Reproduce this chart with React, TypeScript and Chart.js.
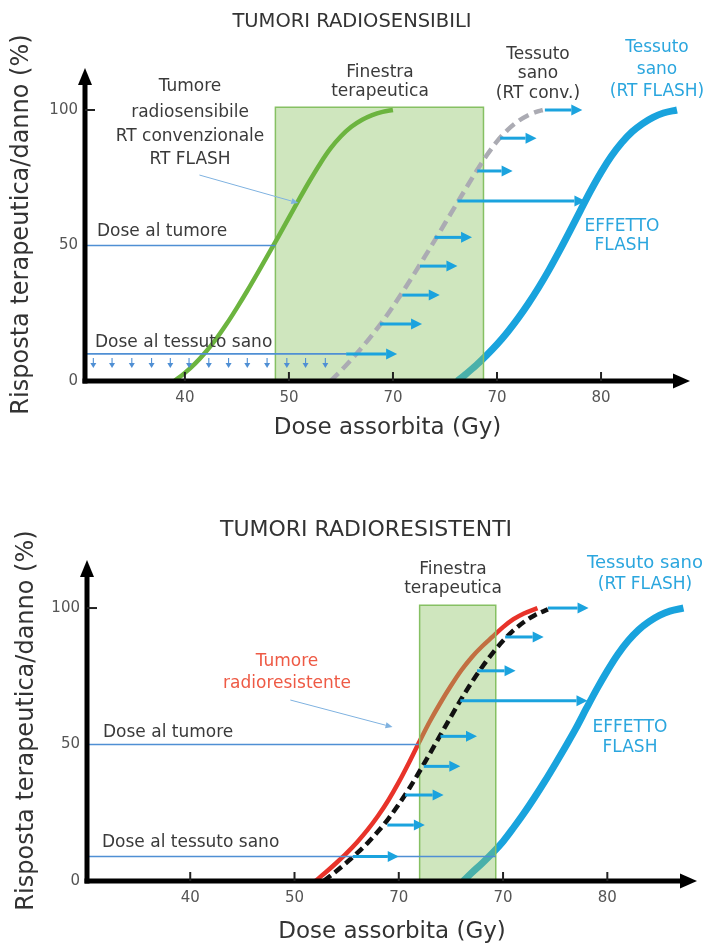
import React, { useEffect, useRef } from 'react';
import { Chart, registerables } from 'chart.js';
Chart.register(...registerables);

const FONT = "'DejaVu Sans', sans-serif";

// ---- shared axis ticks ----
const xTickValues = [40, 50, 60, 70, 80];
const xTickLabels = ['40', '50', '70', '70', '80'];
const yTickValues = [0, 50, 100];
const yTickLabels = ['0', '50', '100'];
const xAxisTitle = 'Dose assorbita (Gy)';
const yAxisTitle = 'Risposta terapeutica/danno (%)';

// ---- TOP panel: tumori radiosensibili ----
const topTitle = 'TUMORI RADIOSENSIBILI';
const topTumorX = [39, 40, 41, 42, 43, 44, 45, 46, 47, 48, 49, 50, 51, 52, 53, 54, 55, 56, 57, 58, 59, 60];
const topTumorY = [0, 3, 6.5, 10.7, 15.5, 21, 27, 33.3, 39.9, 46.6, 53.4, 60.3, 67.2, 73.9, 80.2, 85.8, 90.3, 93.8, 96.3, 98.1, 99.3, 100];
const topConvX = [54, 55, 56, 57, 58, 59, 60, 61, 62, 63, 64, 65, 66, 67, 68, 69, 70, 71, 72, 73, 74, 74.4];
const topConvY = [0, 3.8, 7.9, 12.3, 17, 22, 27.5, 33.3, 39.3, 45.5, 51.8, 58.2, 64.6, 71, 77.3, 83.2, 88.4, 92.6, 95.8, 98.1, 99.6, 100];
const topFlashX = [66.2, 67, 68, 69, 70, 71, 72, 73, 74, 75, 76, 77, 78, 79, 80, 81, 82, 83, 84, 85, 86, 87.3];
const topFlashY = [0, 2.5, 5.8, 9.5, 13.5, 18, 23, 28.5, 34.5, 41, 48, 55.3, 62.8, 70.2, 77, 83, 88, 92, 95, 97.3, 98.9, 100];
const topWindow = [48.7, 68.7, 101]; // x from, x to, top
const topArrowY = [100, 89.6, 77.5, 66.4, 53, 42.4, 31.7, 21, 10];
const topArrowFrom = [74.6, 70.3, 68.1, 66.2, 64.0, 62.6, 60.9, 58.75, 55.5];
const topArrowTo = [78.2, 73.8, 71.5, 78.5, 67.6, 66.2, 64.5, 62.8, 60.4];
const topDoseY = [50, 10];
const topDoseTo = [48.7, 55.5];
const topDownArrowX = [31.2, 33.0, 34.9, 36.8, 38.6, 40.4, 42.3, 44.2, 46.0, 47.9, 49.8, 51.6, 53.5];
const topLeader = [41.4, 76, 50.9, 65.7];

// ---- BOTTOM panel: tumori radioresistenti ----
const botTitle = 'TUMORI RADIORESISTENTI';
const botTumorX = [52, 53, 54, 55, 56, 57, 58, 59, 60, 61, 62, 63, 64, 65, 66, 67, 68, 69, 70, 71, 72, 73.3];
const botTumorY = [0, 3.2, 6.6, 10.2, 14.2, 18.7, 23.8, 29.6, 36.2, 43.5, 51.2, 58.6, 65.3, 71.5, 77.2, 82, 86, 89.5, 93, 95.9, 98, 100];
const botConvX = [52.8, 54, 55, 56, 57, 58, 59, 60, 61, 62, 63, 64, 65, 66, 67, 68, 69, 70, 71, 72, 73, 74.3];
const botConvY = [0, 3.6, 6.8, 10.2, 13.9, 18.1, 22.8, 28.1, 33.9, 40.2, 46.8, 53.5, 60.2, 66.7, 72.8, 78.4, 83.5, 88, 91.8, 94.9, 97.3, 99.5];
const botFlashX = [66.2, 67, 68, 69, 70, 71, 72, 73, 74, 75, 76, 77, 78, 79, 80, 81, 82, 83, 84, 85, 86, 87.3];
const botFlashY = [0, 3, 6.5, 10.3, 14.5, 19.5, 24.8, 30.5, 36.5, 42.8, 49.3, 56, 63.3, 70.4, 77, 83, 88, 92, 95, 97.3, 98.9, 100];
const botWindow = [62.0, 69.3, 101];
const botArrowY = [100, 89.4, 77, 66, 53, 42, 31.5, 20.5, 9];
const botArrowFrom = [74.3, 70.2, 67.5, 65.9, 64.0, 62.4, 60.6, 58.9, 55.6];
const botArrowTo = [78.2, 73.9, 71.2, 78.1, 67.5, 65.9, 64.3, 62.5, 60.0];
const botDoseY = [50, 9];
const botDoseTo = [61.9, 69.3];
const botDownArrowX: number[] = [];
const botLeader = [49.6, 66.3, 59.4, 56.4];

const pts = (xs: number[], ys: number[]) => xs.map((v, i) => ({ x: v, y: ys[i] }));

type Txt = { t: string; x: number; y: number; c?: string; a?: CanvasTextAlign; s?: number };

function arrow(ctx: CanvasRenderingContext2D, x0: number, y0: number, x1: number, y1: number,
  color: string, w: number, hl: number, hh: number) {
  const ang = Math.atan2(y1 - y0, x1 - x0);
  const bx = x1 - hl * Math.cos(ang), by = y1 - hl * Math.sin(ang);
  ctx.strokeStyle = color; ctx.lineWidth = w; ctx.lineCap = 'butt';
  ctx.beginPath(); ctx.moveTo(x0, y0); ctx.lineTo(bx, by); ctx.stroke();
  ctx.fillStyle = color;
  ctx.beginPath(); ctx.moveTo(x1, y1);
  ctx.lineTo(bx - hh * Math.sin(ang), by + hh * Math.cos(ang));
  ctx.lineTo(bx + hh * Math.sin(ang), by - hh * Math.cos(ang));
  ctx.closePath(); ctx.fill();
}

const TEXT = '#3a3a3a';
const BLUE_T = '#2ba6de';
const RED_T = '#ee5a45';

const topTexts: Txt[] = [
  { t: topTitle, x: 352, y: 22, s: 19.5, c: '#333' },
  { t: 'Tumore', x: 190, y: 87 }, { t: 'radiosensibile', x: 190, y: 113 },
  { t: 'RT convenzionale', x: 190, y: 137 }, { t: 'RT FLASH', x: 190, y: 160 },
  { t: 'Finestra', x: 380, y: 73 }, { t: 'terapeutica', x: 380, y: 92 },
  { t: 'Tessuto', x: 538, y: 55 }, { t: 'sano', x: 538, y: 74 }, { t: '(RT conv.)', x: 538, y: 94 },
  { t: 'Tessuto', x: 657, y: 48, c: BLUE_T }, { t: 'sano', x: 657, y: 70, c: BLUE_T },
  { t: '(RT FLASH)', x: 657, y: 92, c: BLUE_T },
  { t: 'EFFETTO', x: 622, y: 227, c: BLUE_T }, { t: 'FLASH', x: 622, y: 246, c: BLUE_T },
  { t: 'Dose al tumore', x: 97, y: 232, a: 'left' },
  { t: 'Dose al tessuto sano', x: 95, y: 343, a: 'left' },
];
const botTexts: Txt[] = [
  { t: botTitle, x: 366, y: 88, s: 22, c: '#333' },
  { t: 'Finestra', x: 453, y: 128 }, { t: 'terapeutica', x: 453, y: 147 },
  { t: 'Tessuto sano', x: 645, y: 121, c: BLUE_T, s: 18 }, { t: '(RT FLASH)', x: 645, y: 143, c: BLUE_T },
  { t: 'Tumore', x: 287, y: 220, c: RED_T }, { t: 'radioresistente', x: 287, y: 242, c: RED_T },
  { t: 'EFFETTO', x: 630, y: 286, c: BLUE_T }, { t: 'FLASH', x: 630, y: 306, c: BLUE_T },
  { t: 'Dose al tumore', x: 103, y: 291, a: 'left' },
  { t: 'Dose al tessuto sano', x: 102, y: 401, a: 'left' },
];

type Cfg = {
  h: number; padTop: number; yW: number; xH: number; padR: number;
  xMin: number; xMax: number; yMax: number; yTitlePad: number; xTitlePad: number;
  tumorX: number[]; tumorY: number[]; tumorColor: string; tumorOrder: number;
  convX: number[]; convY: number[]; convColor: string; convDash: number[];
  flashX: number[]; flashY: number[]; win: number[];
  arrowY: number[]; arrowFrom: number[]; arrowTo: number[];
  doseY: number[]; doseTo: number[]; downX: number[]; leader: number[]; texts: Txt[];
};

const topCfg: Cfg = {
  h: 442, padTop: 68, yW: 85, xH: 61, padR: 17,
  xMin: 30.4, xMax: 88.55, yMax: 115.5, yTitlePad: 7.6, xTitlePad: 0,
  tumorX: topTumorX, tumorY: topTumorY, tumorColor: '#6cb43f', tumorOrder: 1,
  convX: topConvX, convY: topConvY, convColor: '#ababb3', convDash: [11, 6],
  flashX: topFlashX, flashY: topFlashY, win: topWindow,
  arrowY: topArrowY, arrowFrom: topArrowFrom, arrowTo: topArrowTo,
  doseY: topDoseY, doseTo: topDoseTo, downX: topDownArrowX, leader: topLeader, texts: topTexts,
};
const botCfg: Cfg = {
  h: 505, padTop: 118, yW: 87, xH: 66, padR: 10,
  xMin: 30.1, xMax: 88.6, yMax: 117.6, yTitlePad: 12.6, xTitlePad: 1.2,
  tumorX: botTumorX, tumorY: botTumorY, tumorColor: '#e8332a', tumorOrder: 3,
  convX: botConvX, convY: botConvY, convColor: '#111111', convDash: [9, 5],
  flashX: botFlashX, flashY: botFlashY, win: botWindow,
  arrowY: botArrowY, arrowFrom: botArrowFrom, arrowTo: botArrowTo,
  doseY: botDoseY, doseTo: botDoseTo, downX: botDownArrowX, leader: botLeader, texts: botTexts,
};

function decoPlugin(cfg: Cfg) {
  return {
    id: 'deco',
    afterDatasetsDraw(chart: any) {
      const { ctx, chartArea: a, scales } = chart;
      const X = (v: number) => scales.x.getPixelForValue(v);
      const Y = (v: number) => scales.y.getPixelForValue(v);
      ctx.save();
      // dose lines
      ctx.strokeStyle = '#4f8fd4'; ctx.lineWidth = 1.6;
      cfg.doseY.forEach((yy, i) => {
        ctx.beginPath(); ctx.moveTo(a.left, Y(yy)); ctx.lineTo(X(cfg.doseTo[i]), Y(yy)); ctx.stroke();
      });
      // small down arrows
      cfg.downX.forEach((xx) => {
        const px = X(xx), y0 = Y(cfg.doseY[1]) + 4;
        arrow(ctx, px, y0, px, y0 + 10, '#4f8fd4', 1.1, 5, 3);
      });
      // blue arrows
      cfg.arrowY.forEach((yy, i) => {
        arrow(ctx, X(cfg.arrowFrom[i]), Y(yy), X(cfg.arrowTo[i]), Y(yy), '#1ba3de', 3, 11, 5.5);
      });
      // leader
      const L = cfg.leader;
      arrow(ctx, X(L[0]), Y(L[1]), X(L[2]), Y(L[3]), '#7fb2e0', 1, 7, 3);
      // texts
      ctx.textBaseline = 'middle';
      cfg.texts.forEach((t) => {
        ctx.font = `${t.s || 17}px ${FONT}`;
        ctx.fillStyle = t.c || TEXT;
        ctx.textAlign = t.a || 'center';
        ctx.fillText(t.t, t.x, t.y);
      });
      // axes
      ctx.strokeStyle = '#000'; ctx.fillStyle = '#000'; ctx.lineWidth = 5;
      ctx.beginPath(); ctx.moveTo(a.left, a.bottom + 2.5); ctx.lineTo(a.left, a.top + 14); ctx.stroke();
      ctx.beginPath(); ctx.moveTo(a.left, a.top); ctx.lineTo(a.left - 7, a.top + 17); ctx.lineTo(a.left + 7, a.top + 17); ctx.closePath(); ctx.fill();
      ctx.beginPath(); ctx.moveTo(a.left - 2.5, a.bottom); ctx.lineTo(a.right - 14, a.bottom); ctx.stroke();
      ctx.beginPath(); ctx.moveTo(a.right, a.bottom); ctx.lineTo(a.right - 17, a.bottom - 7.5); ctx.lineTo(a.right - 17, a.bottom + 7.5); ctx.closePath(); ctx.fill();
      // tick marks
      ctx.lineWidth = 2; ctx.strokeStyle = '#222';
      xTickValues.forEach((v) => {
        ctx.beginPath(); ctx.moveTo(X(v), a.bottom - 9); ctx.lineTo(X(v), a.bottom); ctx.stroke();
      });
      ctx.beginPath(); ctx.moveTo(a.left, Y(100)); ctx.lineTo(a.left + 10, Y(100)); ctx.stroke();
      ctx.restore();
    },
  };
}

function Panel({ cfg }: { cfg: Cfg }) {
  const ref = useRef<HTMLCanvasElement>(null);
  useEffect(() => {
    const w = cfg.win;
    const chart = new Chart(ref.current as HTMLCanvasElement, {
      type: 'line',
      data: {
        datasets: [
          { data: pts(cfg.tumorX, cfg.tumorY), borderColor: cfg.tumorColor, borderWidth: 4.5, pointRadius: 0, fill: false, cubicInterpolationMode: 'monotone', order: cfg.tumorOrder },
          { data: pts(cfg.convX, cfg.convY), borderColor: cfg.convColor, borderWidth: 4.5, borderDash: cfg.convDash, pointRadius: 0, fill: false, cubicInterpolationMode: 'monotone', order: 1 },
          { data: [{ x: w[0], y: 0 }, { x: w[0], y: w[2] }, { x: w[1], y: w[2] }, { x: w[1], y: 0 }], borderColor: '#86c063', borderWidth: 1.5, backgroundColor: 'rgba(140,195,100,0.42)', pointRadius: 0, fill: 'origin', tension: 0, order: 2 },
          { data: pts(cfg.flashX, cfg.flashY), borderColor: '#19a3dd', borderWidth: 7, pointRadius: 0, fill: false, cubicInterpolationMode: 'monotone', order: 3 },
        ] as any,
      },
      options: {
        animation: false,
        responsive: false,
        maintainAspectRatio: false,
        layout: { padding: { left: 0, right: cfg.padR, top: cfg.padTop, bottom: 0 } },
        plugins: {
          legend: { display: false },
          tooltip: { enabled: false },
          title: { display: false },
        },
        scales: {
          x: {
            type: 'linear', min: cfg.xMin, max: cfg.xMax,
            grid: { display: false, drawTicks: false }, border: { display: false },
            afterBuildTicks: (s: any) => { s.ticks = xTickValues.map((v) => ({ value: v })); },
            afterFit: (s: any) => { s.height = cfg.xH; },
            ticks: { autoSkip: false, maxRotation: 0, padding: 8, color: '#555', font: { size: 15, family: FONT }, callback: (v: any) => xTickLabels[xTickValues.indexOf(Number(v))] ?? '' },
            title: { display: true, text: xAxisTitle, color: '#333', font: { size: 23, family: FONT }, padding: { top: 0, bottom: cfg.xTitlePad } },
          },
          y: {
            type: 'linear', min: 0, max: cfg.yMax,
            grid: { display: false, drawTicks: false }, border: { display: false },
            afterBuildTicks: (s: any) => { s.ticks = yTickValues.map((v) => ({ value: v })); },
            afterFit: (s: any) => { s.width = cfg.yW; },
            ticks: { autoSkip: false, padding: 7, color: '#555', font: { size: 15, family: FONT }, callback: (v: any) => yTickLabels[yTickValues.indexOf(Number(v))] ?? '' },
            title: { display: true, text: yAxisTitle, color: '#333', font: { size: 24, family: FONT }, padding: { top: cfg.yTitlePad, bottom: 0 } },
          },
        },
      } as any,
      plugins: [decoPlugin(cfg)],
    });
    return () => chart.destroy();
  }, [cfg]);
  return <canvas ref={ref} width={707} height={cfg.h} style={{ display: 'block', width: 707, height: cfg.h }} />;
}

export default function App() {
  return (
    <div style={{ position: 'absolute', left: 0, top: 0, width: 707, height: 947, background: '#fff' }}>
      <Panel cfg={topCfg} />
      <Panel cfg={botCfg} />
    </div>
  );
}
